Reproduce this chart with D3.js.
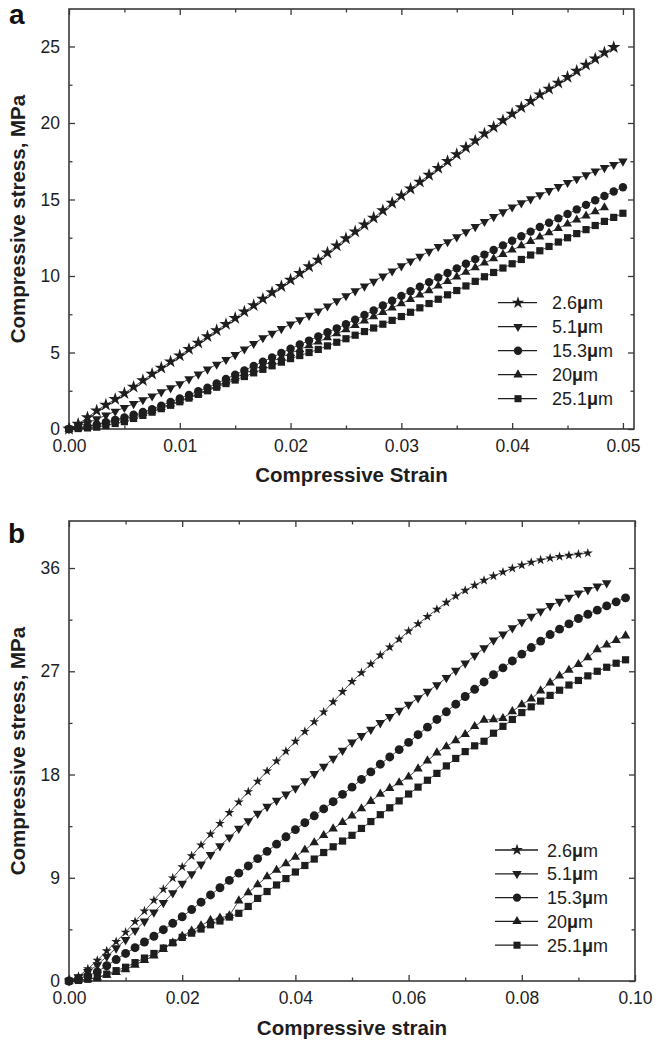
<!DOCTYPE html>
<html><head><meta charset="utf-8">
<script src="https://cdn.jsdelivr.net/npm/d3@7/dist/d3.min.js"></script>
<style>body{margin:0;background:#fff}svg{display:block}</style>
</head><body>
<script>
// ---------- DATA ----------
const seriesLabels = ["2.6", "5.1", "15.3", "20", "25.1"];

// Panel a
const strainA = [0,0.00083,0.00167,0.0025,0.00333,0.00417,0.005,0.00583,0.00667,0.0075,0.00833,0.00917,0.01,0.01083,0.01167,0.0125,0.01333,0.01417,0.015,0.01583,0.01667,0.0175,0.01833,0.01917,0.02,0.02083,0.02167,0.0225,0.02333,0.02417,0.025,0.02583,0.02667,0.0275,0.02833,0.02917,0.03,0.03083,0.03167,0.0325,0.03333,0.03417,0.035,0.03583,0.03667,0.0375,0.03833,0.03917,0.04,0.04083,0.04167,0.0425,0.04333,0.04417,0.045,0.04583,0.04667,0.0475,0.04833,0.04917,0.05];
const starA = [0,0.33,0.75,1.2,1.58,1.95,2.33,2.75,3.18,3.6,4.0,4.4,4.8,5.22,5.63,6.05,6.45,6.85,7.25,7.67,8.08,8.5,8.92,9.33,9.75,10.18,10.62,11.05,11.52,11.98,12.45,12.9,13.35,13.8,14.28,14.77,15.25,15.7,16.15,16.6,17.05,17.5,17.95,18.4,18.85,19.3,19.73,20.17,20.6,21.02,21.43,21.85,22.23,22.62,23.0,23.4,23.8,24.2,24.6,24.95];
const triDownA = [0,0.18,0.4,0.65,0.9,1.15,1.4,1.65,1.9,2.15,2.42,2.68,2.95,3.27,3.58,3.9,4.22,4.53,4.85,5.22,5.58,5.95,6.25,6.55,6.85,7.13,7.42,7.7,8.03,8.37,8.7,9.02,9.33,9.65,9.98,10.32,10.65,10.97,11.28,11.6,11.92,12.23,12.55,12.88,13.22,13.55,13.87,14.18,14.5,14.77,15.03,15.3,15.57,15.83,16.1,16.35,16.6,16.85,17.07,17.28,17.5];
const circleA = [0,0.08,0.18,0.3,0.45,0.6,0.75,0.93,1.12,1.3,1.53,1.77,2.0,2.23,2.47,2.7,2.98,3.27,3.55,3.83,4.12,4.4,4.68,4.97,5.25,5.52,5.78,6.05,6.32,6.58,6.85,7.15,7.45,7.75,8.07,8.38,8.7,9.0,9.3,9.6,9.9,10.2,10.5,10.8,11.1,11.4,11.7,12.0,12.3,12.6,12.9,13.2,13.48,13.77,14.05,14.35,14.65,14.95,15.23,15.52,15.8];
const triUpA = [0,0.07,0.16,0.28,0.4,0.53,0.65,0.83,1.02,1.2,1.42,1.63,1.85,2.08,2.32,2.55,2.82,3.08,3.35,3.62,3.88,4.15,4.42,4.68,4.95,5.2,5.45,5.7,5.97,6.23,6.5,6.78,7.07,7.35,7.63,7.92,8.2,8.48,8.77,9.05,9.35,9.65,9.95,10.25,10.55,10.85,11.13,11.42,11.7,11.98,12.27,12.55,12.83,13.12,13.4,13.67,13.93,14.2,14.47];
const squareA = [0,0.03,0.07,0.12,0.24,0.36,0.48,0.69,0.89,1.1,1.33,1.55,1.78,2.02,2.26,2.5,2.73,2.97,3.2,3.43,3.67,3.9,4.13,4.37,4.6,4.8,5.0,5.2,5.43,5.67,5.9,6.13,6.37,6.6,6.85,7.1,7.35,7.63,7.92,8.2,8.48,8.77,9.05,9.35,9.65,9.95,10.23,10.52,10.8,11.08,11.37,11.65,11.93,12.22,12.5,12.77,13.03,13.3,13.57,13.83,14.1];
const xTicksA = [0, 0.01, 0.02, 0.03, 0.04, 0.05];
const xMinorA = [0.005, 0.015, 0.025, 0.035, 0.045];
const yTicksA = [0, 5, 10, 15, 20, 25];
const yMinorA = [2.5, 7.5, 12.5, 17.5, 22.5];

// Panel b
const strainB = [0,0.00167,0.00333,0.005,0.00667,0.00833,0.01,0.01167,0.01333,0.015,0.01667,0.01833,0.02,0.02167,0.02333,0.025,0.02667,0.02833,0.03,0.03167,0.03333,0.035,0.03667,0.03833,0.04,0.04167,0.04333,0.045,0.04667,0.04833,0.05,0.05167,0.05333,0.055,0.05667,0.05833,0.06,0.06167,0.06333,0.065,0.06667,0.06833,0.07,0.07167,0.07333,0.075,0.07667,0.07833,0.08,0.08167,0.08333,0.085,0.08667,0.08833,0.09,0.09167,0.09333,0.095,0.09667,0.09833,0.1];
const starB = [0,0.4,1.05,1.8,2.62,3.43,4.25,5.18,6.1,7.03,8.0,8.98,9.95,10.9,11.85,12.8,13.73,14.67,15.6,16.5,17.4,18.3,19.17,20.03,20.9,21.75,22.6,23.45,24.33,25.22,26.1,26.87,27.63,28.4,29.1,29.8,30.5,31.13,31.77,32.4,33.0,33.55,34.05,34.5,34.92,35.3,35.65,35.97,36.25,36.5,36.7,36.87,37.0,37.1,37.2,37.3];
const triDownB = [0,0.35,0.8,1.4,2.13,2.87,3.6,4.4,5.2,6.0,6.83,7.67,8.5,9.33,10.17,11.0,11.77,12.53,13.3,13.95,14.6,15.2,15.73,16.27,16.8,17.43,18.07,18.7,19.4,20.1,20.8,21.37,21.93,22.5,23.03,23.57,24.1,24.67,25.23,25.8,26.43,27.07,27.7,28.37,29.03,29.7,30.23,30.77,31.3,31.77,32.23,32.7,33.07,33.43,33.8,34.1,34.4,34.7];
const circleB = [0,0.2,0.45,0.8,1.33,1.87,2.4,2.9,3.4,3.9,4.47,5.03,5.6,6.23,6.87,7.5,8.13,8.77,9.4,10.03,10.67,11.3,11.93,12.57,13.2,13.8,14.4,15.0,15.63,16.27,16.9,17.57,18.23,18.9,19.53,20.17,20.8,21.47,22.13,22.8,23.47,24.13,24.8,25.43,26.07,26.7,27.3,27.9,28.5,29.07,29.63,30.2,30.67,31.13,31.6,31.97,32.33,32.7,33.05,33.4];
const triUpB = [0,0.08,0.18,0.3,0.52,0.75,1.0,1.4,1.8,2.2,2.77,3.33,3.9,4.37,4.83,5.3,5.5,5.7,7.0,7.7,8.4,9.1,9.67,10.23,10.8,11.43,12.07,12.7,13.27,13.83,14.4,15.03,15.67,16.3,16.8,17.3,17.8,18.5,19.2,19.9,20.43,20.97,21.5,22.2,22.75,22.8,22.9,23.5,24.1,24.6,25.3,26.0,26.6,27.1,27.6,28.2,28.9,29.3,29.7,30.1];
const squareB = [0,0.05,0.15,0.3,0.6,0.9,1.2,1.6,2.0,2.4,2.87,3.33,3.8,4.17,4.53,4.9,5.23,5.57,5.9,6.5,7.2,7.8,8.37,8.93,9.5,10.07,10.63,11.2,11.7,12.2,12.7,13.3,13.9,14.5,15.1,15.7,16.3,16.9,17.5,18.1,18.75,19.4,20.0,20.5,20.9,21.6,22.2,22.8,23.4,23.9,24.4,24.9,25.35,25.8,26.2,26.6,27.0,27.35,27.7,28.0];
const xTicksB = [0, 0.02, 0.04, 0.06, 0.08, 0.10];
const xMinorB = [0.01, 0.03, 0.05, 0.07, 0.09];
const yTicksB = [0, 9, 18, 27, 36];
const yMinorB = [4.5, 13.5, 22.5, 31.5];

// ---------- DRAWING ----------
const INK = "#1e1e1e";
const AX = "#3a3a3a";
const FONT = "'Liberation Sans', Arial, Helvetica, sans-serif";

const svg = d3.select("body").append("svg").attr("width", 656).attr("height", 1044);

const shapes = ["star", "triDown", "circle", "triUp", "square"];
function symPath(shape, size) {
  const t = {star: d3.symbolStar, triDown: d3.symbolTriangle, circle: d3.symbolCircle,
             triUp: d3.symbolTriangle, square: d3.symbolSquare}[shape];
  return d3.symbol().type(t).size(size)();
}
function symTransform(shape, x, y) {
  return `translate(${x},${y})` + (shape === "triDown" ? " rotate(180)" : "");
}

function drawPanel(o) {
  const x = d3.scaleLinear().domain(o.xDomain).range(o.xRange);
  const y = d3.scaleLinear().domain(o.yDomain).range(o.yRange);
  const g = svg.append("g");
  const [x0, x1] = o.xRange, [y0, y1] = o.yRange;

  const styleAxis = sel => {
    sel.select(".domain").remove();
    sel.selectAll(".tick line").attr("stroke", AX).attr("stroke-width", 1.3);
    sel.selectAll(".tick text").attr("fill", INK).style("font-family", FONT).style("font-size", "17.5px");
  };
  g.append("g").attr("transform", `translate(0,${y0})`)
    .call(d3.axisBottom(x).tickValues(o.xTicks).tickFormat(d3.format(".2f")).tickSize(-6).tickPadding(11)).call(styleAxis);
  g.append("g").attr("transform", `translate(0,${y0})`)
    .call(d3.axisBottom(x).tickValues(o.xMinor).tickFormat("").tickSize(-3.5)).call(styleAxis);
  g.append("g").attr("transform", `translate(0,${y1})`)
    .call(d3.axisTop(x).tickValues(o.xTicks).tickFormat("").tickSize(-6)).call(styleAxis);
  g.append("g").attr("transform", `translate(0,${y1})`)
    .call(d3.axisTop(x).tickValues(o.xMinor).tickFormat("").tickSize(-3.5)).call(styleAxis);
  g.append("g").attr("transform", `translate(${x0},0)`)
    .call(d3.axisLeft(y).tickValues(o.yTicks).tickFormat(d3.format("d")).tickSize(-6).tickPadding(9)).call(styleAxis);
  g.append("g").attr("transform", `translate(${x0},0)`)
    .call(d3.axisLeft(y).tickValues(o.yMinor).tickFormat("").tickSize(-3.5)).call(styleAxis);
  g.append("g").attr("transform", `translate(${x1},0)`)
    .call(d3.axisRight(y).tickValues(o.yTicks).tickFormat("").tickSize(-6)).call(styleAxis);
  g.append("g").attr("transform", `translate(${x1},0)`)
    .call(d3.axisRight(y).tickValues(o.yMinor).tickFormat("").tickSize(-3.5)).call(styleAxis);

  g.append("rect").attr("x", x0).attr("y", y1).attr("width", x1 - x0).attr("height", y0 - y1)
    .attr("fill", "none").attr("stroke", AX).attr("stroke-width", 1.6);

  o.series.forEach((vals, i) => {
    const pts = vals.map((v, j) => [o.strain[j], v]);
    g.append("path").datum(pts)
      .attr("d", d3.line().x(d => x(d[0])).y(d => y(d[1])))
      .attr("fill", "none").attr("stroke", INK).attr("stroke-width", 0.8);
    g.append("g").selectAll("path").data(pts).join("path")
      .attr("d", symPath(shapes[i], o.sizes[i]))
      .attr("transform", d => symTransform(shapes[i], x(d[0]), y(d[1])))
      .attr("fill", INK);
  });

  seriesLabels.forEach((lab, i) => {
    const cy = o.leg.y + i * o.leg.dy;
    g.append("line").attr("x1", o.leg.x1).attr("x2", o.leg.x2).attr("y1", cy).attr("y2", cy)
      .attr("stroke", INK).attr("stroke-width", 1.3);
    g.append("path").attr("d", symPath(shapes[i], o.legSizes[i]))
      .attr("transform", symTransform(shapes[i], o.leg.mx, cy)).attr("fill", INK);
    const t = g.append("text").attr("x", o.leg.tx).attr("y", cy + 6.5)
      .style("font-family", FONT).style("font-size", "18px").attr("fill", INK);
    t.append("tspan").text(lab);
    t.append("tspan").attr("font-weight", "bold").text("\u03bc");
    t.append("tspan").text("m");
  });

  g.append("text").attr("x", (x0 + x1) / 2).attr("y", o.xTitleY).attr("text-anchor", "middle")
    .style("font-family", FONT).style("font-size", "20.5px").style("font-weight", "bold")
    .attr("fill", INK).text(o.xTitle);
  g.append("text").attr("transform", `translate(25,${(y0 + y1) / 2}) rotate(-90)`)
    .attr("text-anchor", "middle")
    .style("font-family", FONT).style("font-size", "20.5px").style("font-weight", "bold")
    .attr("fill", INK).text("Compressive stress, MPa");
  g.append("text").attr("x", o.labelPos[0]).attr("y", o.labelPos[1])
    .style("font-family", FONT).style("font-size", "28px").style("font-weight", "bold")
    .attr("fill", "#111").text(o.label);
}

drawPanel({
  xDomain: [0, 0.051], xRange: [69, 634], yDomain: [0, 27.45], yRange: [429, 9],
  xTicks: xTicksA, xMinor: xMinorA, yTicks: yTicksA, yMinor: yMinorA,
  strain: strainA, series: [starA, triDownA, circleA, triUpA, squareA],
  sizes: [55, 38, 55, 36, 52], legSizes: [48, 38, 55, 38, 50],
  leg: {y: 302.7, dy: 24, x1: 498, x2: 537, mx: 518, tx: 552},
  xTitle: "Compressive Strain", xTitleY: 482, label: "a", labelPos: [9, 24]
});

drawPanel({
  xDomain: [0, 0.1], xRange: [69, 635], yDomain: [0, 40.1], yRange: [981, 521],
  xTicks: xTicksB, xMinor: xMinorB, yTicks: yTicksB, yMinor: yMinorB,
  strain: strainB, series: [starB, triDownB, circleB, triUpB, squareB],
  sizes: [30, 40, 62, 38, 52], legSizes: [44, 38, 55, 38, 50],
  leg: {y: 850, dy: 23.8, x1: 495, x2: 538, mx: 517, tx: 547},
  xTitle: "Compressive strain", xTitleY: 1035, label: "b", labelPos: [8, 543]
});
</script>
</body></html>
